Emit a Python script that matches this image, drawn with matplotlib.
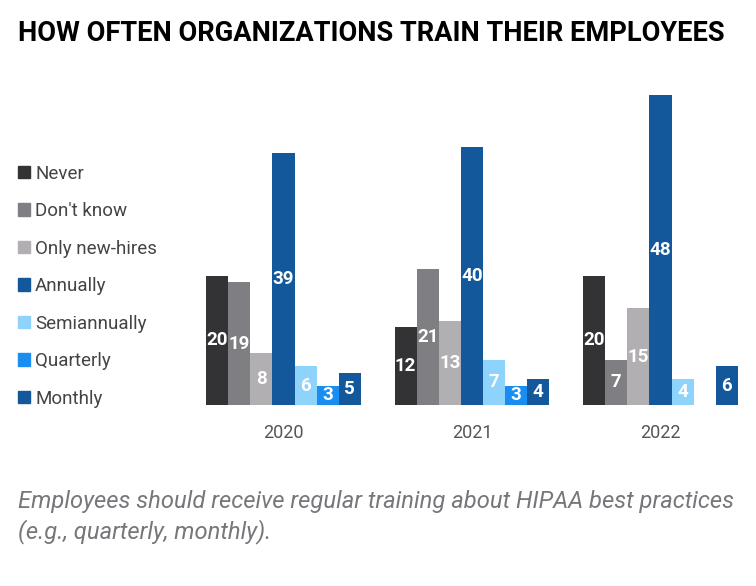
import numpy as np
import matplotlib.pyplot as plt
from matplotlib.patches import Patch

years = ['2020', '2021', '2022']
categories = ['Never', "Don't know", 'Only new-hires', 'Annually',
              'Semiannually', 'Quarterly', 'Monthly']
never = [20, 12, 20]
dont_know = [19, 21, 7]
only_new_hires = [8, 13, 15]
annually = [39, 40, 48]
semiannually = [6, 7, 4]
quarterly = [3, 3, 0]
monthly = [5, 4, 6]

series = [never, dont_know, only_new_hires, annually, semiannually, quarterly, monthly]
colors = ['#333235', '#7f7e82', '#b1afb2', '#12589a', '#8dd3fb', '#1a8ef0', '#13589b']

plt.rcParams['font.family'] = ['Roboto', 'DejaVu Sans']

fig = plt.figure(figsize=(7.56, 5.86), dpi=100)
ax = fig.add_axes([0.2254, 0.3089, 0.773, 0.551])

x = np.arange(len(years))
w = 0.1173
for i, (vals, c) in enumerate(zip(series, colors)):
    pos = x + (i - 3) * w
    bars = ax.bar(pos, vals, w, color=c, label=categories[i])
    for p, v in zip(pos, vals):
        if v > 0:
            ax.text(p, v / 2, str(v), ha='center', va='center', color='white',
                    fontsize=13.5, fontweight='bold')

ax.set_xlim(-0.6, 2.5)
ax.set_ylim(0, 50)
ax.set_xticks(x)
ax.set_xticklabels(years, fontsize=13, color='#555555')
ax.tick_params(axis='x', length=0, pad=14)
ax.set_yticks([])
for s in ax.spines.values():
    s.set_visible(False)

handles = [Patch(color=c) for c in colors]
fig.legend(handles, categories, loc='upper left', bbox_to_anchor=(0.002, 0.748),
           frameon=False, fontsize=13.5, handlelength=0.64, handleheight=0.64,
           handletextpad=0.25, labelspacing=1.04, labelcolor='#444444')

fig.text(0.024, 0.942, 'HOW OFTEN ORGANIZATIONS TRAIN THEIR EMPLOYEES',
         fontsize=19.6, fontweight='bold', color='black', va='center')
fig.text(0.024, 0.118, 'Employees should receive regular training about HIPAA best practices\n(e.g., quarterly, monthly).',
         fontsize=17.1, style='italic', color='#77777b', va='center', linespacing=1.35)

plt.savefig('out.png', dpi=100)
